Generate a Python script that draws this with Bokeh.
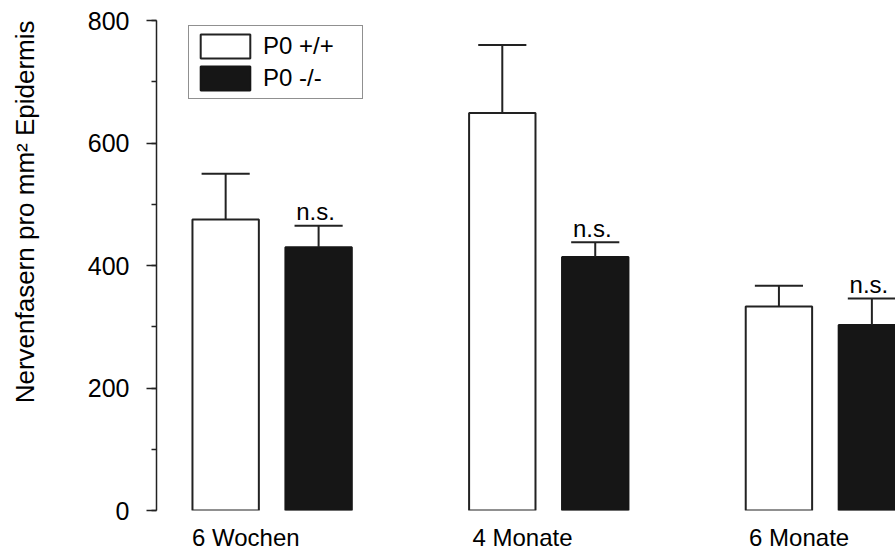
import math
from bokeh.plotting import figure
from bokeh.layouts import row
from bokeh.models import Range1d, SingleIntervalTicker, FixedTicker, Legend, LegendItem
from bokeh.core.properties import value
from bokeh.embed import file_html
from bokeh.resources import INLINE

# ---- data ----
groups = ["6 Wochen", "4 Monate", "6 Monate"]
wt_mean = [475, 649, 333]
wt_err = [75, 111, 34]
ko_mean = [430, 414, 303]
ko_err = [35, 24, 43]
sig_labels = ["n.s.", "n.s.", "n.s."]
series_names = ["P0 +/+", "P0 -/-"]
y_label = "Nervenfasern pro mm² Epidermis"

# ---- style ----
FONT = "Liberation Sans"
INK = "#222222"
BLACK = "#161616"
OFF = 0.168      # bar offset from group centre
BW = 0.24        # bar width
CAP = 0.174      # error cap width
LBL_SHIFT = -0.095
H = 553
LEFT_W = 50

# ---- narrow panel holding the rotated y-axis title ----
t = figure(width=LEFT_W, height=H, x_range=Range1d(0, LEFT_W), y_range=Range1d(0, H),
           output_backend="svg", toolbar_location=None,
           x_axis_type=None, y_axis_type=None, min_border=0)
t.outline_line_color = None
t.xgrid.grid_line_color = None
t.ygrid.grid_line_color = None
t.border_fill_color = "white"
t.text(x=[24], y=[H - 216], text=[y_label], angle=math.pi / 2,
       text_align="center", text_baseline="middle",
       text_font=value(FONT), text_font_size="26px", text_color="black")

# ---- main chart ----
pos = list(range(len(groups)))
wt_x = [g - OFF for g in pos]
ko_x = [g + OFF for g in pos]

p = figure(width=895 - LEFT_W, height=H,
           x_range=Range1d(-0.418, 2.2534), y_range=Range1d(0, 800),
           output_backend="svg", toolbar_location=None,
           min_border_left=156 - LEFT_W, min_border_right=0,
           min_border_top=20, min_border_bottom=43)
p.outline_line_color = None
p.xgrid.grid_line_color = None
p.ygrid.grid_line_color = None
p.background_fill_color = "white"
p.border_fill_color = "white"

r_wt = p.vbar(x=wt_x, top=wt_mean, bottom=0, width=BW,
              fill_color="white", line_color=INK, line_width=2)
r_ko = p.vbar(x=ko_x, top=ko_mean, bottom=0, width=BW,
              fill_color=BLACK, line_color=BLACK, line_width=2)

# error bars (upper only)
for xs, m, e in ((wt_x, wt_mean, wt_err), (ko_x, ko_mean, ko_err)):
    tops = [a + b for a, b in zip(m, e)]
    p.segment(x0=xs, y0=m, x1=xs, y1=tops, line_color=INK, line_width=2)
    p.segment(x0=[x - CAP / 2 for x in xs], y0=tops,
              x1=[x + CAP / 2 for x in xs], y1=tops,
              line_color=INK, line_width=2)

# significance labels
ko_tops = [a + b for a, b in zip(ko_mean, ko_err)]
p.text(x=ko_x, y=ko_tops, text=sig_labels, text_align="center",
       text_baseline="alphabetic", y_offset=-14, x_offset=-3,
       text_font=value(FONT), text_font_size="24px", text_color="black")

# y axis
yax = p.yaxis[0]
yax.ticker = SingleIntervalTicker(interval=200, num_minor_ticks=2)
yax.axis_line_color = INK
yax.axis_line_width = 1.5
yax.major_tick_line_color = INK
yax.major_tick_line_width = 1.5
yax.minor_tick_line_color = INK
yax.minor_tick_line_width = 1.5
yax.major_tick_in = 0
yax.major_tick_out = 10
yax.minor_tick_in = 0
yax.minor_tick_out = 5
yax.major_label_standoff = 17
yax.major_label_text_font = FONT
yax.major_label_text_font_size = "25px"
yax.major_label_text_color = "black"

# x axis: group labels only
xax = p.xaxis[0]
lbl_pos = [g + LBL_SHIFT for g in pos]
xax.ticker = FixedTicker(ticks=lbl_pos)
xax.major_label_overrides = {t_: g for t_, g in zip(lbl_pos, groups)}
xax.axis_line_color = None
xax.major_tick_line_color = None
xax.minor_tick_line_color = None
xax.major_label_standoff = 7
xax.major_label_text_font = FONT
xax.major_label_text_font_size = "24px"
xax.major_label_text_color = "black"

legend = Legend(items=[LegendItem(label=series_names[0], renderers=[r_wt]),
                       LegendItem(label=series_names[1], renderers=[r_ko])],
                location=(32, 411))
legend.glyph_width = 62
legend.glyph_height = 30
legend.label_standoff = 7
legend.label_width = 94
legend.padding = 5
legend.spacing = 2
legend.margin = 0
legend.border_line_color = INK
legend.border_line_width = 1.5
legend.background_fill_color = "white"
legend.background_fill_alpha = 1.0
legend.label_text_font = FONT
legend.label_text_font_size = "24px"
legend.label_text_color = "black"
p.add_layout(legend)

layout = row(t, p, spacing=0)
open("out.html", "w").write(file_html(layout, INLINE))
